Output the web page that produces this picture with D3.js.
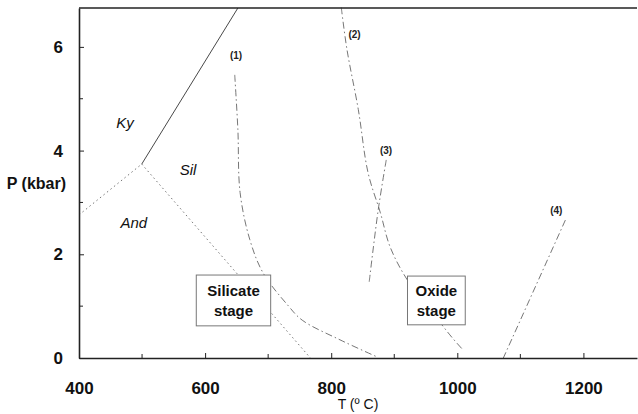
<!DOCTYPE html>
<html>
<head>
<meta charset="utf-8">
<script src="https://cdn.jsdelivr.net/npm/d3@7"></script>
<style>
  body { margin: 0; background: #fff; }
  svg { display: block; font-family: "Liberation Sans", Arial, sans-serif; }
  .tick text { font-weight: bold; font-size: 17px; fill: #111; }
  .axis path, .axis line { stroke: #222; }
  .bound { fill: none; stroke: #666; stroke-width: 0.9; }
  .region { font-style: italic; font-size: 15px; fill: #111; }
  .curve-label { font-weight: bold; font-size: 10px; fill: #222; }
  .stage { font-weight: bold; font-size: 15px; fill: #111; }
</style>
</head>
<body>
<svg id="chart" width="638" height="414"></svg>
<script>
/* DATA: T in deg C, P in kbar */

const xTicks = [400, 600, 800, 1000, 1200];
const yTicks = [0, 2, 4, 6];

// Al2SiO5 phase boundaries
const kySil = [[499.5, 3.74], [652, 6.75]];
const andKy = [[400, 2.76], [499.5, 3.74]];
const andSil = [[499.5, 3.74], [767, 0]];

// numbered reaction curves
const curve1 = [[647, 5.46], [652, 4.4], [655.5, 3.19], [671, 2.28], [692, 1.64],
                [731, 1.02], [754, 0.73], [814, 0.35], [873, 0.02]];
const curve2 = [[816, 6.76], [825, 5.95], [843, 4.79], [858.5, 3.57], [878, 2.8],
                [893.5, 2.14], [920.5, 1.51], [957, 0.93], [992, 0.39], [1009.5, 0.15]];
const curve3 = [[887.3, 3.82], [874.6, 2.86], [860.3, 1.47]];
const curve4 = [[1171.4, 2.66], [1073, 0]];

const curveNames = ["(1)", "(2)", "(3)", "(4)"];
const curveLabelPos = [[649, 5.84], [837, 6.23], [887, 4.01], [1157, 2.84]];

const regionNames = ["Ky", "Sil", "And"];
const regionPos = [[473, 4.53], [573, 3.63], [487, 2.6]];

// stage boxes: [T0, T1, P0, P1]
const stageNames = [["Silicate", "stage"], ["Oxide", "stage"]];
const stageBoxes = [[586, 704, 0.62, 1.6], [921, 1012.6, 0.64, 1.58]];

/* SETUP */

const svg = d3.select("#chart");

const xScale = d3.scaleLinear().domain([400, 1285]).range([79, 637]);
const yScale = d3.scaleLinear().domain([0, 6.75]).range([358, 8]);

const line = d3.line()
  .x(d => xScale(d[0]))
  .y(d => yScale(d[1]));

const smooth = d3.line()
  .x(d => xScale(d[0]))
  .y(d => yScale(d[1]))
  .curve(d3.curveCatmullRom);

/* BOUNDARY LINES */

const plot = svg.append("g").attr("id", "lines");

plot.append("path").datum(kySil).attr("class", "bound")
  .attr("d", line).style("stroke", "#333").style("stroke-width", 0.9);
plot.append("path").datum(andKy).attr("class", "bound")
  .attr("d", line).attr("stroke-dasharray", "1.5,3");
plot.append("path").datum(andSil).attr("class", "bound")
  .attr("d", line).attr("stroke-dasharray", "1.5,3");

const dashDot = "7,3,1.5,3";
[curve1, curve2, curve3, curve4].forEach(c => {
  plot.append("path").datum(c).attr("class", "bound")
    .attr("d", c.length > 2 ? smooth : line)
    .attr("stroke-dasharray", dashDot);
});

/* LABELS */

plot.selectAll("text.curve-label")
  .data(curveNames)
  .enter().append("text")
  .attr("class", "curve-label")
  .attr("x", (d, i) => xScale(curveLabelPos[i][0]))
  .attr("y", (d, i) => yScale(curveLabelPos[i][1]))
  .attr("dy", "0.35em")
  .attr("text-anchor", "middle")
  .text(d => d);

plot.selectAll("text.region")
  .data(regionNames)
  .enter().append("text")
  .attr("class", "region")
  .attr("x", (d, i) => xScale(regionPos[i][0]))
  .attr("y", (d, i) => yScale(regionPos[i][1]))
  .attr("dy", "0.35em")
  .attr("text-anchor", "middle")
  .text(d => d);

/* STAGE BOXES (white fill hides the curves under them) */

stageBoxes.forEach((b, i) => {
  const g = svg.append("g").attr("class", "stage-box");
  const x0 = xScale(b[0]), x1 = xScale(b[1]);
  const y0 = yScale(b[3]), y1 = yScale(b[2]);
  g.append("rect")
    .attr("x", x0).attr("y", y0)
    .attr("width", x1 - x0).attr("height", y1 - y0)
    .style("fill", "#fff").style("stroke", "#777").style("stroke-width", 1);
  const cx = (x0 + x1) / 2;
  const cy = (y0 + y1) / 2;
  g.append("text").attr("class", "stage")
    .attr("x", cx).attr("y", cy - 10).attr("dy", "0.35em")
    .attr("text-anchor", "middle").text(stageNames[i][0]);
  g.append("text").attr("class", "stage")
    .attr("x", cx).attr("y", cy + 10).attr("dy", "0.35em")
    .attr("text-anchor", "middle").text(stageNames[i][1]);
});

/* AXES */

const xAxis = d3.axisBottom(xScale)
  .tickValues(xTicks).tickFormat(d3.format("d"))
  .tickSizeInner(-5).tickSizeOuter(0).tickPadding(24);
const yAxis = d3.axisLeft(yScale)
  .tickValues(yTicks).tickFormat(d3.format("d"))
  .tickSizeInner(-5).tickSizeOuter(0).tickPadding(16);

svg.append("g").attr("class", "axis").attr("id", "x-axis")
  .attr("transform", "translate(0," + yScale(0) + ")")
  .call(xAxis);
svg.append("g").attr("class", "axis").attr("id", "y-axis")
  .attr("transform", "translate(" + xScale(400) + ",0)")
  .call(yAxis);

// minor ticks
const xMinor = d3.range(500, 1285, 200);
const yMinor = [1, 3, 5];
svg.append("g").selectAll("line")
  .data(xMinor).enter().append("line")
  .attr("x1", d => xScale(d)).attr("x2", d => xScale(d))
  .attr("y1", yScale(0)).attr("y2", yScale(0) - 4)
  .style("stroke", "#222");
svg.append("g").selectAll("line")
  .data(yMinor).enter().append("line")
  .attr("x1", xScale(400)).attr("x2", xScale(400) + 4)
  .attr("y1", d => yScale(d)).attr("y2", d => yScale(d))
  .style("stroke", "#222");

svg.selectAll(".axis path").style("stroke-width", 1.6);

// top frame line
svg.append("line")
  .attr("x1", xScale(400)).attr("x2", xScale(1285))
  .attr("y1", yScale(6.75)).attr("y2", yScale(6.75))
  .style("stroke", "#222").style("stroke-width", 1.4);

/* AXIS TITLES */

svg.append("text")
  .attr("x", d3.mean(xScale.range()))
  .attr("y", 404).attr("dy", "0.35em")
  .attr("text-anchor", "middle")
  .style("font-size", "14px").style("fill", "#111")
  .text("T (\u00ba C)");

svg.append("text")
  .attr("x", 66)
  .attr("y", d3.mean(yScale.range())).attr("dy", "0.35em")
  .attr("text-anchor", "end")
  .style("font-size", "16px").style("font-weight", "bold").style("fill", "#111")
  .text("P (kbar)");
</script>
</body>
</html>
